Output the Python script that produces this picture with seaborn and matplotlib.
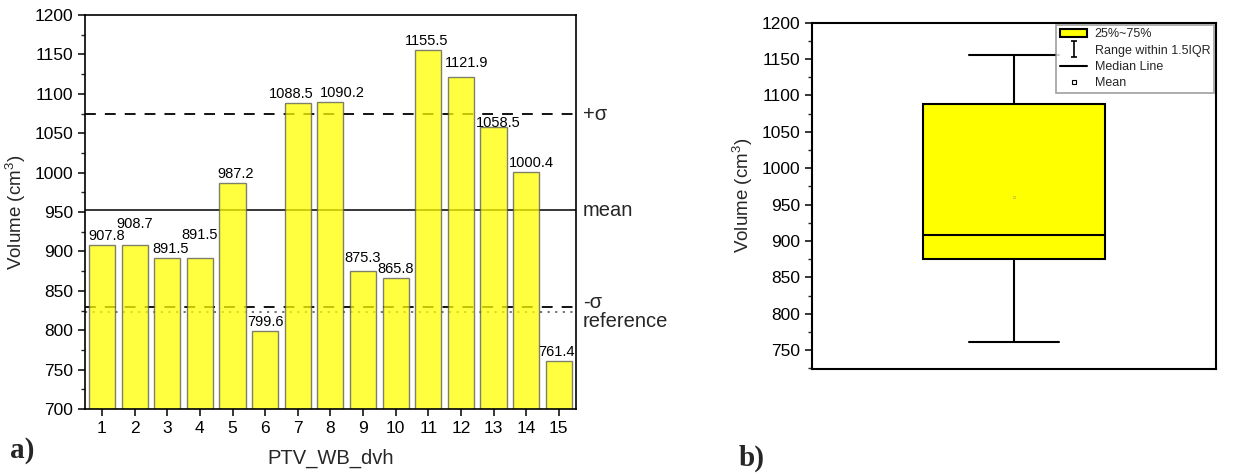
import numpy as np
import pandas as pd
import matplotlib
matplotlib.use('Agg')
import matplotlib.pyplot as plt
import matplotlib.transforms as mtransforms
from matplotlib.path import Path
from matplotlib.lines import Line2D
from matplotlib.patches import Patch
from matplotlib.ticker import MultipleLocator
import seaborn as sns

# data
cases = [str(i) for i in range(1, 16)]
volumes = [907.8, 908.7, 891.5, 891.5, 987.2, 799.6, 1088.5, 1090.2,
           875.3, 865.8, 1155.5, 1121.9, 1058.5, 1000.4, 761.4]
ref_names = ['+σ', 'mean', '-σ', 'reference']
ref_values = [1074, 952, 829, 823]
legend_labels = ['25%~75%', 'Range within 1.5IQR', 'Median Line', 'Mean']

sns.set_style('ticks')
plt.rcParams['font.family'] = ['Liberation Sans', 'DejaVu Sans']
plt.rcParams['mathtext.fontset'] = 'custom'
plt.rcParams['mathtext.rm'] = 'Liberation Sans'

fig = plt.figure(figsize=(12.56, 4.74), dpi=100)
ax1 = fig.add_axes([0.0677, 0.1371, 0.3907, 0.8312])
ax2 = fig.add_axes([0.6465, 0.2215, 0.3217, 0.7306])

# ---- a) bar chart ----
line_styles = {
    '+σ': dict(color='black', ls=(0, (6, 5)), lw=1.3),
    'mean': dict(color='black', ls='-', lw=1.1),
    '-σ': dict(color='black', ls=(0, (6, 5)), lw=1.3),
    'reference': dict(color='#666666', ls=(0, (1.2, 3)), lw=1.3),
}
text_nudge = {'+σ': 0, 'mean': 0, '-σ': 5, 'reference': -9}
trans = mtransforms.blended_transform_factory(ax1.transAxes, ax1.transData)
for name, val in zip(ref_names, ref_values):
    ax1.axhline(val, zorder=1, **line_styles[name])
    ax1.annotate(name, xy=(1.0, val), xycoords=trans, xytext=(7, text_nudge[name]),
                 textcoords='offset pixels', va='center', ha='left', fontsize=14.5)

df = pd.DataFrame({'case': cases, 'volume': volumes})
sns.barplot(data=df, x='case', y='volume', color='#ffff00', saturation=1,
            alpha=0.75, edgecolor='#555555', linewidth=1, width=0.8, ax=ax1, zorder=2)

# label nudges (pixels) where the original staggers text
label_nudge = {0: (5, 0), 1: (0, 12), 2: (3, 0), 3: (0, 14), 4: (3, 0),
               6: (-7, 0), 7: (12, 0), 8: (0, 4), 10: (-2, 0), 11: (6, 5),
               12: (5, -5), 13: (5, 0), 14: (-2, 0)}
for i, v in enumerate(volumes):
    dx, dy = label_nudge.get(i, (0, 0))
    ax1.annotate(f'{v:.1f}', xy=(i, v), xytext=(dx, 2 + dy), textcoords='offset pixels',
                 ha='center', va='bottom', fontsize=10.5, color='black')

ax1.set_ylim(700, 1200)
ax1.set_xlim(-0.52, 14.52)
ax1.yaxis.set_major_locator(MultipleLocator(50))
ax1.yaxis.set_minor_locator(MultipleLocator(25))
ax1.tick_params(axis='both', which='major', direction='out', length=5, width=1.1,
                labelsize=12.5, colors='black')
ax1.tick_params(axis='y', which='minor', direction='out', length=3, width=1)
ax1.set_xlabel('PTV_WB_dvh', fontsize=14.5, labelpad=9)
ax1.set_ylabel('Volume (cm$^3$)', fontsize=13.5, labelpad=5)
for sp in ax1.spines.values():
    sp.set_visible(True)
    sp.set_color('black')
    sp.set_linewidth(1.2)

# ---- b) box chart ----
vals = np.array(volumes)
q1, med, q3 = np.percentile(vals, [25, 50, 75], method='weibull')
iqr = q3 - q1
lo = vals[vals >= q1 - 1.5 * iqr].min()
hi = vals[vals <= q3 + 1.5 * iqr].max()
stats = [dict(med=med, q1=q1, q3=q3, whislo=lo, whishi=hi, fliers=[], mean=vals.mean())]
ax2.bxp(stats, positions=[0], widths=0.9, capwidths=0.45, patch_artist=True,
        showfliers=False,
        boxprops=dict(facecolor='#ffff00', edgecolor='black', linewidth=1.5),
        medianprops=dict(color='black', linewidth=1.5),
        whiskerprops=dict(color='black', linewidth=1.5),
        capprops=dict(color='black', linewidth=1.5))
ax2.plot([0], [vals.mean()], marker='s', ms=2, mfc='none', mec='#c8c840', mew=0.6)

ax2.set_xlim(-1, 1)
ax2.set_ylim(724, 1200)
ax2.set_xticks([])
ax2.yaxis.set_major_locator(MultipleLocator(50))
ax2.yaxis.set_minor_locator(MultipleLocator(25))
ax2.tick_params(axis='y', which='major', direction='out', length=5, width=1.1,
                labelsize=12.5, colors='black')
ax2.tick_params(axis='y', which='minor', direction='out', length=3, width=1)
ax2.set_ylabel('Volume (cm$^3$)', fontsize=13.5, labelpad=5)
for sp in ax2.spines.values():
    sp.set_visible(True)
    sp.set_color('black')
    sp.set_linewidth(1.5)

ibeam = Path([(-0.4, 1), (0.4, 1), (0, 1), (0, -1), (-0.4, -1), (0.4, -1)],
             [Path.MOVETO, Path.LINETO, Path.MOVETO, Path.LINETO, Path.MOVETO, Path.LINETO])
handles = [
    Patch(facecolor='#ffff00', edgecolor='black', linewidth=1.5),
    Line2D([], [], ls='none', marker=ibeam, ms=12, color='black', mew=1.2),
    Line2D([], [], color='black', lw=1.5),
    Line2D([], [], ls='none', marker='s', ms=3.5, mfc='white', mec='black', mew=0.8),
]
leg = ax2.legend(handles, legend_labels, loc='upper right', fontsize=9,
                 frameon=True, fancybox=False, borderaxespad=0.15, borderpad=0.3,
                 handlelength=2.2, handletextpad=0.6, labelspacing=0.35)
leg.get_frame().set_edgecolor('#888888')
leg.get_frame().set_linewidth(1.2)

fig.text(0.008, 0.05, 'a)', fontsize=21, fontweight='bold', family='Liberation Serif',
         va='center')
fig.text(0.588, 0.034, 'b)', fontsize=21, fontweight='bold', family='Liberation Serif',
         va='center')

fig.savefig('out.png', dpi=100)
